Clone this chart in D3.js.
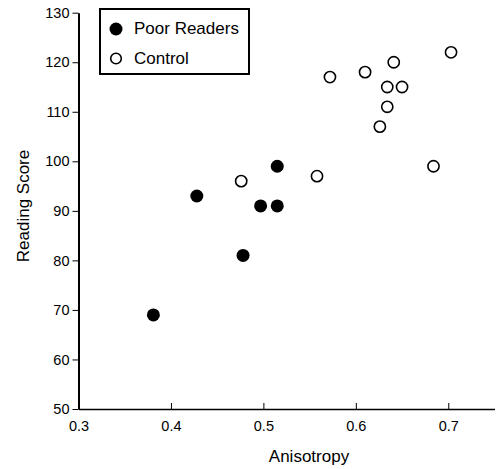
<!DOCTYPE html>
<html>
<head>
<meta charset="utf-8">
<script src="https://cdn.jsdelivr.net/npm/d3@7"></script>
<style>
  html, body { margin: 0; padding: 0; background: #fff; }
  text { font-family: Arial, "Liberation Sans", Helvetica, sans-serif; fill: #000; }
</style>
</head>
<body>
<svg id="chart" width="497" height="469"></svg>
<script>
// Data
const poorX = [0.381, 0.428, 0.478, 0.497, 0.515, 0.515];
const poorY = [69, 93, 81, 91, 91, 99];
const controlX = [0.476, 0.558, 0.572, 0.610, 0.641, 0.634, 0.650, 0.634, 0.626, 0.684, 0.703];
const controlY = [96, 97, 117, 118, 120, 115, 115, 111, 107, 99, 122];
const xTicks = [0.3, 0.4, 0.5, 0.6, 0.7];
const yTicks = [50, 60, 70, 80, 90, 100, 110, 120, 130];
const seriesNames = ["Poor Readers", "Control"];
const xTitle = "Anisotropy";
const yTitle = "Reading Score";

const svg = d3.select("#chart");
const x = d3.scaleLinear().domain([0.3, 0.75]).range([78.5, 494.5]);
const y = d3.scaleLinear().domain([50, 130]).range([409, 12.7]);

// Y axis
const yAxis = svg.append("g")
  .attr("transform", `translate(${x(0.3)},0)`)
  .call(d3.axisLeft(y).tickValues(yTicks).tickFormat(d3.format("d"))
    .tickSizeInner(6).tickSizeOuter(0).tickPadding(3));
yAxis.select(".domain").attr("stroke", "#000").attr("stroke-width", 2);
yAxis.selectAll(".tick line").attr("stroke", "#000").attr("stroke-width", 1);
yAxis.selectAll(".tick text").style("font-size", "14.5px").attr("font-family", null);

// X axis (ticks point inward)
const xAxis = svg.append("g")
  .attr("transform", `translate(0,${y(50)})`)
  .call(d3.axisBottom(x).tickValues(xTicks).tickFormat(d3.format(".1f"))
    .tickSizeInner(-6).tickSizeOuter(0).tickPadding(12));
xAxis.select(".domain").attr("stroke", "#000").attr("stroke-width", 1.6);
xAxis.selectAll(".tick line").attr("stroke", "#000").attr("stroke-width", 1);
xAxis.selectAll(".tick text").style("font-size", "14.5px").attr("font-family", null);

// Axis titles
svg.append("text")
  .attr("x", 309).attr("y", 462)
  .attr("text-anchor", "middle")
  .style("font-size", "17px")
  .text(xTitle);
svg.append("text")
  .attr("transform", "translate(29,206) rotate(-90)")
  .attr("text-anchor", "middle")
  .style("font-size", "17px")
  .text(yTitle);

// Points
const controlData = controlX.map((d, i) => ({x: d, y: controlY[i]}));
const poorData = poorX.map((d, i) => ({x: d, y: poorY[i]}));

svg.append("g").selectAll("circle").data(controlData).join("circle")
  .attr("cx", d => x(d.x)).attr("cy", d => y(d.y)).attr("r", 5.6)
  .attr("fill", "#fff").attr("stroke", "#000").attr("stroke-width", 1.6);

svg.append("g").selectAll("circle").data(poorData).join("circle")
  .attr("cx", d => x(d.x)).attr("cy", d => y(d.y)).attr("r", 6.5)
  .attr("fill", "#000");

// Legend
const legend = svg.append("g");
legend.append("rect")
  .attr("x", 100).attr("y", 9).attr("width", 149).attr("height", 65)
  .attr("fill", "#fff").attr("stroke", "#000").attr("stroke-width", 2);
legend.append("circle").attr("cx", 116).attr("cy", 29).attr("r", 6.5).attr("fill", "#000");
legend.append("circle").attr("cx", 116).attr("cy", 58.5).attr("r", 5.3)
  .attr("fill", "#fff").attr("stroke", "#000").attr("stroke-width", 1.6);
legend.append("text").attr("x", 134).attr("y", 34).style("font-size", "17px").text(seriesNames[0]);
legend.append("text").attr("x", 134).attr("y", 64).style("font-size", "17px").text(seriesNames[1]);
</script>
</body>
</html>
